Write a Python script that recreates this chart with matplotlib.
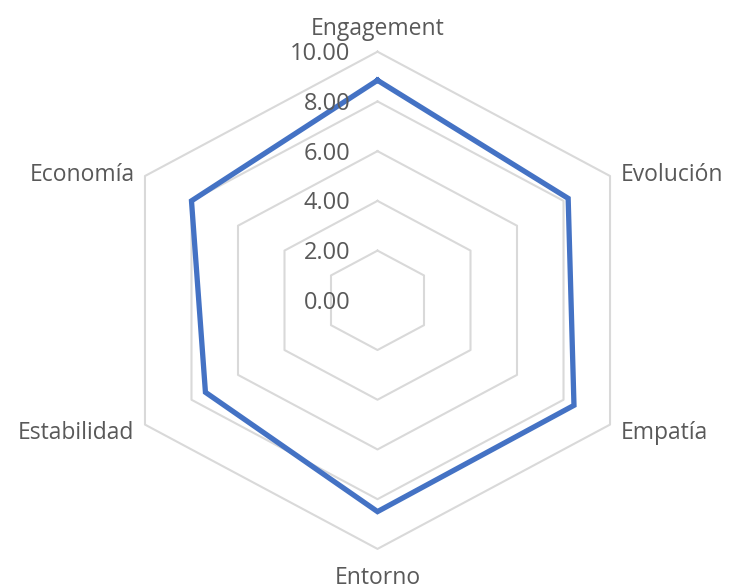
import matplotlib
matplotlib.use("Agg")
import matplotlib.pyplot as plt
import numpy as np

# data
categories = ["Engagement", "Evolución", "Empatía", "Entorno", "Estabilidad", "Economía"]
values = [8.85, 8.2, 8.45, 8.5, 7.4, 8.0]
grid_levels = [2, 4, 6, 8, 10]
tick_values = [0, 2, 4, 6, 8, 10]

text_color = "#595959"
grid_color = "#d9d9d9"
line_color = "#4472C4"
font = ["Open Sans", "DejaVu Sans"]

n = len(categories)
angles = np.arange(n) * 2 * np.pi / n  # clockwise from top


def to_xy(r, ang):
    return r * np.sin(ang), r * np.cos(ang)


fig = plt.figure(figsize=(7.31, 5.86), dpi=100)
ax = fig.add_axes([0, 0, 1, 1])
ax.set_axis_off()

# pixel layout of the original (x slightly stretched)
cx, cy = 377.5, 300.3
sy = 24.86
sx = sy * 1.08
ax.set_xlim(-cx / sx, (731 - cx) / sx)
ax.set_ylim(-(586 - cy) / sy, cy / sy)

# grid hexagons
for lvl in grid_levels:
    x, y = to_xy(np.full(n + 1, lvl), np.append(angles, angles[0]))
    ax.plot(x, y, color=grid_color, lw=1.5, zorder=1)

# tick labels
for t in tick_values:
    ax.text(-1.0, t - 0.1, f"{t:.2f}", ha="right", va="center", fontsize=17,
            color=text_color, family=font, zorder=3)

# series
vals = np.array(values + values[:1])
x, y = to_xy(vals, np.append(angles, angles[0]))
ax.plot(x, y, color=line_color, lw=3.8, solid_joinstyle="miter", zorder=2)

# category labels
for cat, ang in zip(categories, angles):
    s = np.sin(ang)
    c = np.cos(ang)
    if abs(s) < 1e-6:
        ax.text(0, 11.05 * c - 0.12, cat, ha="center", va="center", fontsize=16.5,
                color=text_color, family=font)
    else:
        ha = "left" if s > 0 else "right"
        ax.text(10.45 * s, 10.4 * c - 0.14, cat, ha=ha, va="center", fontsize=16.5,
                color=text_color, family=font)

fig.savefig("out.png", dpi=100)
